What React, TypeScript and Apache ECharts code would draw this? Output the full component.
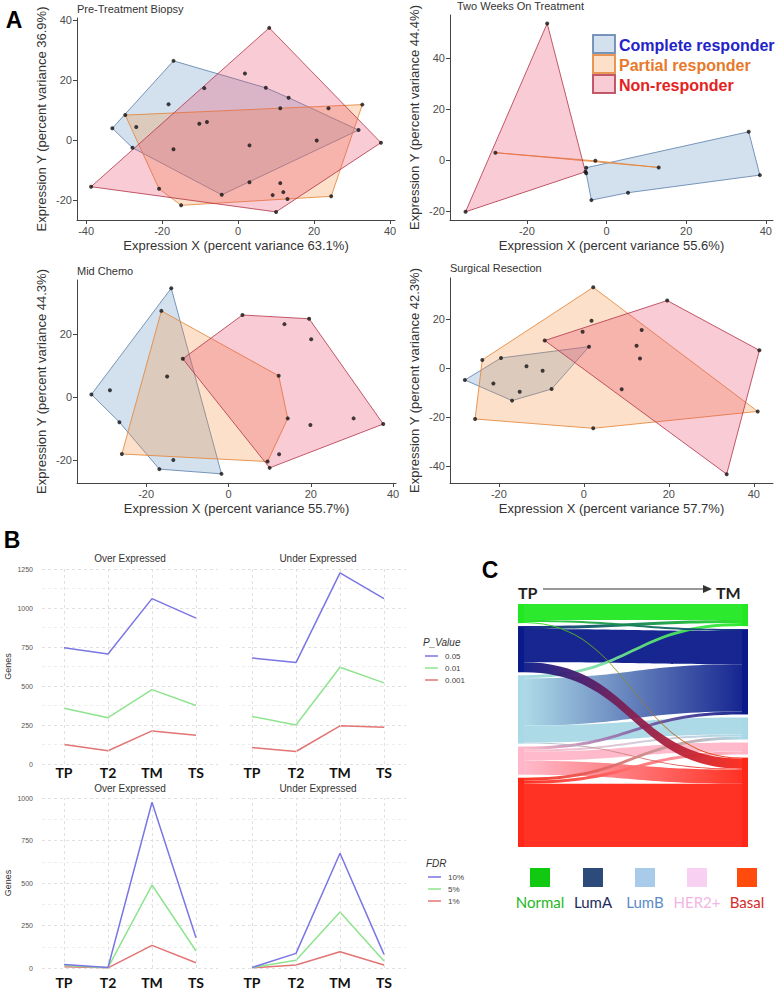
import React, { useEffect, useRef } from 'react';
import * as echarts from 'echarts';

// ---------------- Panel A data ----------------
const responderGroups = ['Complete responder', 'Partial responder', 'Non-responder'];
const panelATitles = ['Pre-Treatment Biopsy', 'Two Weeks On Treatment', 'Mid Chemo', 'Surgical Resection'];
const panelAXNames = [
  'Expression X (percent variance 63.1%)',
  'Expression X (percent variance 55.6%)',
  'Expression X (percent variance 55.7%)',
  'Expression X (percent variance 57.7%)',
];
const panelAYNames = [
  'Expression Y (percent variance 36.9%)',
  'Expression Y (percent variance 44.4%)',
  'Expression Y (percent variance 44.3%)',
  'Expression Y (percent variance 42.3%)',
];
const panelATickValues = [-40, -20, 0, 20, 40];
const panelAXRange = [[-42.4, 41.3], [-39.3, 41.8], [-36.8, 40.7], [-31.5, 44.5]];
const panelAYRange = [[-26.7, 40.7], [-23.5, 56.9], [-27.3, 37.1], [-46.9, 36.7]];

// hull vertices [x, y]
const preComplete = [[-17.0, 26.4], [7.3, 17.4], [13.3, 14.1], [31.7, 3.3], [-4.3, -18.3], [-27.8, -2.6], [-33.1, 3.9]];
const prePartial = [[-29.7, 8.3], [32.7, 11.8], [24.5, -18.8], [-15.0, -21.8], [-20.8, -16.3]];
const preNon = [[8.2, 37.4], [37.6, -0.9], [10.0, -24.0], [-38.7, -15.6]];
const preInner = [[-18.3, 11.9], [-26.8, 4.3], [11.1, 10.6], [23.8, 10.6], [1.8, 22.2], [-8.9, 17.3], [-10.2, 5.4], [-8.2, 6.0], [-17.0, -3.1], [3.0, -1.8], [20.7, -0.2], [3.0, -14.1], [11.1, -14.4], [11.9, -17.4], [9.1, -18.4], [13.0, -19.7]];

const twoComplete = [[-5.1, -3.0], [35.7, 11.1], [38.5, -5.9], [5.4, -12.8], [-3.8, -15.7], [-5.1, -5.2]];
const twoPartial = [[-27.9, 2.9], [-2.8, -0.3], [13.1, -2.9]];
const twoNon = [[-14.9, 53.6], [-5.3, -4.6], [-35.4, -20.3]];
const twoInner: number[][] = [];

const midComplete = [[-13.9, 34.5], [-1.7, -24.4], [-16.8, -22.9], [-26.5, -8.0], [-33.3, 0.8]];
const midPartial = [[-16.3, 27.3], [12.2, 6.7], [14.4, -6.8], [9.5, -20.5], [-25.9, -18.1]];
const midNon = [[-11.1, 12.1], [3.4, 26.0], [19.6, 24.8], [37.6, -8.6], [10.0, -22.5]];
const midInner = [[-28.8, 2.1], [-14.9, 6.5], [-13.4, -20.0], [13.6, 23.1], [20.1, 18.3], [30.4, -6.8], [19.9, -8.9], [12.3, -18.2]];

const surgComplete = [[-28.0, -4.9], [-19.5, 4.1], [1.2, 8.7], [-7.6, -8.6], [-16.9, -13.3]];
const surgPartial = [[2.2, 32.9], [40.9, -17.7], [2.2, -24.6], [-25.6, -20.8], [-23.9, 3.3]];
const surgNon = [[-9.2, 11.2], [19.6, 27.5], [41.3, 7.2], [33.6, -43.3]];
const surgInner = [[-13.5, 0.7], [-9.7, -1.1], [-21.3, -6.3], [-15.1, -9.7], [1.8, 19.3], [-0.3, 14.8], [13.6, 15.5], [12.4, 9.1], [13.2, 3.9], [8.9, -8.7]];

// ---------------- Panel B data ----------------
const timepoints = ['TP', 'T2', 'TM', 'TS'];
const facetTitles = ['Over Expressed', 'Under Expressed'];
const pValueLevels = ['0.05', '0.01', '0.001'];
const fdrLevels = ['10%', '5%', '1%'];
const overP05 = [745, 705, 1060, 935];
const overP01 = [358, 297, 477, 375];
const overP001 = [125, 85, 212, 185];
const underP05 = [680, 650, 1225, 1060];
const underP01 = [305, 250, 620, 520];
const underP001 = [105, 80, 245, 235];
const overFdr10 = [20, 3, 975, 178];
const overFdr5 = [14, 2, 488, 100];
const overFdr1 = [8, 1, 133, 31];
const underFdr10 = [3, 86, 675, 80];
const underFdr5 = [2, 45, 330, 41];
const underFdr1 = [1, 18, 96, 18];
const bTicksTop = [0, 1250];
const bTicksBottom = [0, 1000];

// ---------------- Panel C data ----------------
const subtypes = ['Normal', 'LumA', 'LumB', 'HER2+', 'Basal'];
// straight flows first, crossing flows last (drawn on top)
const flows: [string, string, number][] = [
  ['Basal', 'Basal', 63], ['LumA', 'LumA', 33], ['LumB', 'LumA', 47], ['LumB', 'LumB', 17],
  ['Normal', 'Normal', 16], ['HER2+', 'HER2+', 9], ['HER2+', 'Basal', 14],
  ['Basal', 'HER2+', 3], ['Basal', 'LumB', 3], ['HER2+', 'LumB', 2], ['HER2+', 'LumA', 3],
  ['LumB', 'Basal', 1], ['LumA', 'Normal', 3], ['LumB', 'Normal', 3], ['Normal', 'LumA', 2],
  ['LumA', 'Basal', 10], ['Normal', 'Basal', 1],
];

// ---------------- styles / layout ----------------
const FONT = '"Liberation Sans", Arial, sans-serif';
const CAL = 'Lato, "Open Sans", sans-serif';
const hullStyles = [
  { fill: 'rgba(70,130,185,0.24)', stroke: 'rgba(80,118,165,0.75)' },
  { fill: 'rgba(246,145,60,0.28)', stroke: 'rgba(228,135,60,0.85)' },
  { fill: 'rgba(232,70,100,0.28)', stroke: 'rgba(178,52,72,0.8)' },
];
const legendTextColors = ['#2323c8', '#e8792b', '#e42222'];
const lineColors = ['#7a76e4', '#8ee48e', '#e27474'];
const nodeColors = ['#22e822', '#0b1a8a', '#a9d8e6', '#ffb6c8', '#ff2718'];
const legendSquareColors = ['#12c912', '#2c4a7a', '#a8cbe9', '#f8d0f2', '#ff4b0c'];
const legendLabelColors = ['#22b822', '#1c2b5c', '#5b8bc6', '#f2b5e2', '#d62b2b'];

const aGrids = [
  { left: 77, top: 18, width: 318, height: 202 },
  { left: 450, top: 15, width: 323, height: 205 },
  { left: 77, top: 280, width: 319, height: 203 },
  { left: 450, top: 278, width: 323, height: 205 },
];
const aTitlePos = [[77, 9], [457, 6], [77, 271], [450, 268]];
const bGrids = [
  { left: 42, top: 569, width: 176, height: 195 },
  { left: 230, top: 569, width: 176, height: 195 },
  { left: 42, top: 798, width: 176, height: 170 },
  { left: 230, top: 798, width: 176, height: 170 },
];

function buildOption() {
  const hulls = [
    [preComplete, prePartial, preNon],
    [twoComplete, twoPartial, twoNon],
    [midComplete, midPartial, midNon],
    [surgComplete, surgPartial, surgNon],
  ];
  const inner = [preInner, twoInner, midInner, surgInner];

  const grid: any[] = [];
  const xAxis: any[] = [];
  const yAxis: any[] = [];
  const series: any[] = [];
  const graphic: any[] = [];

  // Panel A
  for (let i = 0; i < 4; i++) {
    grid.push({ ...aGrids[i], containLabel: false });
    const [xmin, xmax] = panelAXRange[i];
    const [ymin, ymax] = panelAYRange[i];
    const xt = panelATickValues.filter((v) => v >= xmin && v <= xmax);
    const yt = panelATickValues.filter((v) => v >= ymin && v <= ymax);
    xAxis.push({
      type: 'value', gridIndex: i, min: xmin, max: xmax,
      axisLine: { show: true, onZero: false, lineStyle: { color: '#444', width: 1 } },
      axisTick: { show: true, length: 4, customValues: xt, lineStyle: { color: '#444' } },
      axisLabel: { customValues: xt, color: '#4d4d4d', fontSize: 11, fontFamily: FONT, margin: 5 },
      splitLine: { show: false },
      name: panelAXNames[i], nameLocation: 'middle', nameGap: 19,
      nameTextStyle: { fontSize: 13, color: '#333', fontFamily: FONT },
    });
    yAxis.push({
      type: 'value', gridIndex: i, min: ymin, max: ymax,
      axisLine: { show: true, onZero: false, lineStyle: { color: '#444', width: 1 } },
      axisTick: { show: true, length: 4, customValues: yt, lineStyle: { color: '#444' } },
      axisLabel: { customValues: yt, color: '#4d4d4d', fontSize: 11, fontFamily: FONT, margin: 5 },
      splitLine: { show: false },
      name: panelAYNames[i], nameLocation: 'middle', nameGap: 29,
      nameTextStyle: { fontSize: 13, color: '#333', fontFamily: FONT },
    });
    for (let g = 0; g < 3; g++) {
      const pts = hulls[i][g];
      const st = hullStyles[g];
      series.push({
        type: 'custom', name: responderGroups[g], xAxisIndex: i, yAxisIndex: i, silent: true, z: 2 + g,
        data: pts,
        encode: { x: 0, y: 1 },
        renderItem: (params: any, api: any) => {
          if (params.dataIndex !== 0) return null;
          const points = pts.map((p) => api.coord(p));
          return {
            type: 'polygon',
            shape: { points },
            style: { fill: st.fill, stroke: st.stroke, lineWidth: 1 },
          };
        },
      });
    }
    const dots = [...hulls[i][0], ...hulls[i][1], ...hulls[i][2], ...inner[i]];
    series.push({
      type: 'scatter', xAxisIndex: i, yAxisIndex: i, silent: true, z: 10,
      data: dots, symbolSize: 4, itemStyle: { color: '#111' },
    });
    graphic.push({
      type: 'text', x: aTitlePos[i][0], y: aTitlePos[i][1],
      style: { text: panelATitles[i], font: `11px ${FONT}`, fill: '#333', align: 'left', verticalAlign: 'middle', textAlign: 'left', textVerticalAlign: 'middle' },
    });
  }

  // Panel A legend
  const legendRows = [44, 64, 84];
  responderGroups.forEach((g, k) => {
    graphic.push({
      type: 'rect', shape: { x: 593, y: legendRows[k] - 9, width: 22, height: 18 },
      style: { fill: hullStyles[k].fill, stroke: hullStyles[k].stroke, lineWidth: 2 },
    });
    graphic.push({
      type: 'text', x: 619, y: legendRows[k] + 1,
      style: { text: g, font: `bold 16px ${FONT}`, fill: legendTextColors[k], align: 'left', verticalAlign: 'middle', textAlign: 'left', textVerticalAlign: 'middle' },
    });
  });

  // Panel B
  const bSeries = [
    [overP05, overP01, overP001],
    [underP05, underP01, underP001],
    [overFdr10, overFdr5, overFdr1],
    [underFdr10, underFdr5, underFdr1],
  ];
  for (let k = 0; k < 4; k++) {
    const gi = 4 + k;
    const isLeft = k % 2 === 0;
    const isTop = k < 2;
    const yMax = isTop ? bTicksTop[1] : bTicksBottom[1];
    grid.push({ ...bGrids[k], containLabel: false });
    xAxis.push({
      type: 'category', gridIndex: gi, data: timepoints, boundaryGap: true,
      axisLine: { show: false }, axisTick: { show: false },
      axisLabel: { fontFamily: CAL, fontWeight: 'bold', fontSize: 14, color: '#111', margin: isTop ? 1 : 7 },
      splitLine: { show: false },
    });
    yAxis.push({
      type: 'value', gridIndex: gi, min: 0, max: yMax, interval: 250,
      axisLine: { show: false }, axisTick: { show: false },
      axisLabel: { show: isLeft, fontSize: 7, color: '#555', fontFamily: FONT, margin: 9, formatter: (v: number) => String(v) },
      splitLine: { show: true, lineStyle: { color: '#d9d9d9', type: [3, 3], width: 0.8 } },
      minorTick: { show: false, splitNumber: 2 },
      minorSplitLine: { show: true, lineStyle: { color: '#e8e8e8', type: [3, 3], width: 0.8 } },
      name: isLeft ? 'Genes' : '', nameLocation: 'middle', nameGap: 30,
      nameTextStyle: { fontSize: 9, color: '#333', fontFamily: FONT },
    });
    for (let s = 2; s >= 0; s--) {
      const ser: any = {
        type: 'line', xAxisIndex: gi, yAxisIndex: gi, silent: true,
        name: (isTop ? pValueLevels : fdrLevels)[s],
        data: bSeries[k][s], symbol: 'none', z: 3 + (2 - s),
        lineStyle: { color: lineColors[s], width: 1.5 }, itemStyle: { color: lineColors[s] },
      };
      if (s === 2) {
        ser.markLine = {
          silent: true, symbol: 'none', label: { show: false },
          lineStyle: { color: '#d9d9d9', type: [3, 3], width: 0.8 },
          data: timepoints.map((t) => ({ xAxis: t })),
        };
      }
      series.push(ser);
    }
    graphic.push({
      type: 'text', x: bGrids[k].left + bGrids[k].width / 2, y: bGrids[k].top - (isTop ? 11 : 10),
      style: { text: facetTitles[k % 2], font: `10px ${FONT}`, fill: '#333', align: 'center', verticalAlign: 'middle', textAlign: 'center', textVerticalAlign: 'middle' },
    });
  }

  // Panel B legends
  const legBlocks = [
    { title: 'P_Value', levels: pValueLevels, x: 423, y: 642 },
    { title: 'FDR', levels: fdrLevels, x: 426, y: 863 },
  ];
  legBlocks.forEach((b) => {
    graphic.push({
      type: 'text', x: b.x, y: b.y,
      style: { text: b.title, font: `italic 10px ${FONT}`, fill: '#333', align: 'left', verticalAlign: 'middle', textAlign: 'left', textVerticalAlign: 'middle' },
    });
    b.levels.forEach((lv, j) => {
      const yy = b.y + 14 + j * 12;
      graphic.push({ type: 'line', shape: { x1: b.x + 2, y1: yy, x2: b.x + 15, y2: yy }, style: { stroke: lineColors[j], lineWidth: 1.5 } });
      graphic.push({
        type: 'text', x: b.x + 22, y: yy,
        style: { text: lv, font: `8px ${FONT}`, fill: '#444', align: 'left', verticalAlign: 'middle', textAlign: 'left', textVerticalAlign: 'middle' },
      });
    });
  });

  // Panel C sankey
  const nodes: any[] = [];
  subtypes.forEach((s, i) => nodes.push({ name: 'TP ' + s, depth: 0, itemStyle: { color: nodeColors[i] } }));
  subtypes.forEach((s, i) => nodes.push({ name: 'TM ' + s, depth: 1, itemStyle: { color: nodeColors[i] } }));
  const links = flows.map(([a, b, v]) => ({ source: 'TP ' + a, target: 'TM ' + b, value: v }));
  series.push({
    type: 'sankey', left: 518, top: 604, width: 230, height: 243,
    nodeWidth: 6, nodeGap: 3, layoutIterations: 0, draggable: false, silent: true,
    label: { show: false },
    emphasis: { disabled: true },
    itemStyle: { borderWidth: 0 },
    lineStyle: { color: 'gradient', opacity: 0.95, curveness: 0.5 },
    data: nodes, links,
  });

  // Panel C header
  graphic.push({
    type: 'text', x: 518, y: 592,
    style: { text: 'TP', font: `bold 16px ${CAL}`, fill: '#222', align: 'left', verticalAlign: 'middle', textAlign: 'left', textVerticalAlign: 'middle' },
  });
  graphic.push({ type: 'line', shape: { x1: 543, y1: 589, x2: 705, y2: 589 }, style: { stroke: '#333', lineWidth: 1.2 } });
  graphic.push({ type: 'polygon', shape: { points: [[703, 585], [712, 589], [703, 593]] }, style: { fill: '#333' } });
  graphic.push({
    type: 'text', x: 716, y: 592,
    style: { text: 'TM', font: `bold 16px ${CAL}`, fill: '#222', align: 'left', verticalAlign: 'middle', textAlign: 'left', textVerticalAlign: 'middle' },
  });

  // Panel C legend
  const sqX = [530, 583, 635, 687, 737];
  subtypes.forEach((s, i) => {
    graphic.push({ type: 'rect', shape: { x: sqX[i], y: 868, width: 20, height: 19 }, style: { fill: legendSquareColors[i] } });
    graphic.push({
      type: 'text', x: sqX[i] + 10, y: 902,
      style: { text: s, font: `15px ${CAL}`, fill: legendLabelColors[i], align: 'center', verticalAlign: 'middle', textAlign: 'center', textVerticalAlign: 'middle' },
    });
  });

  // Panel letters
  const letters: [string, number, number][] = [['A', 14, 20], ['B', 12, 540], ['C', 490, 570]];
  letters.forEach(([t, x, y]) => {
    graphic.push({
      type: 'text', x, y,
      style: { text: t, font: `bold 23px ${FONT}`, fill: '#000', align: 'center', verticalAlign: 'middle', textAlign: 'center', textVerticalAlign: 'middle' },
    });
  });

  return {
    animation: false,
    backgroundColor: '#ffffff',
    grid, xAxis, yAxis, series, graphic,
  };
}

export default function App() {
  const ref = useRef<HTMLDivElement>(null);
  useEffect(() => {
    if (!ref.current) return;
    const chart = echarts.init(ref.current, null, { renderer: 'svg' });
    chart.setOption(buildOption() as any);
    return () => chart.dispose();
  }, []);
  return (
    <div
      ref={ref}
      style={{ position: 'absolute', left: 0, top: 0, width: 778, height: 989, background: '#fff' }}
    />
  );
}
